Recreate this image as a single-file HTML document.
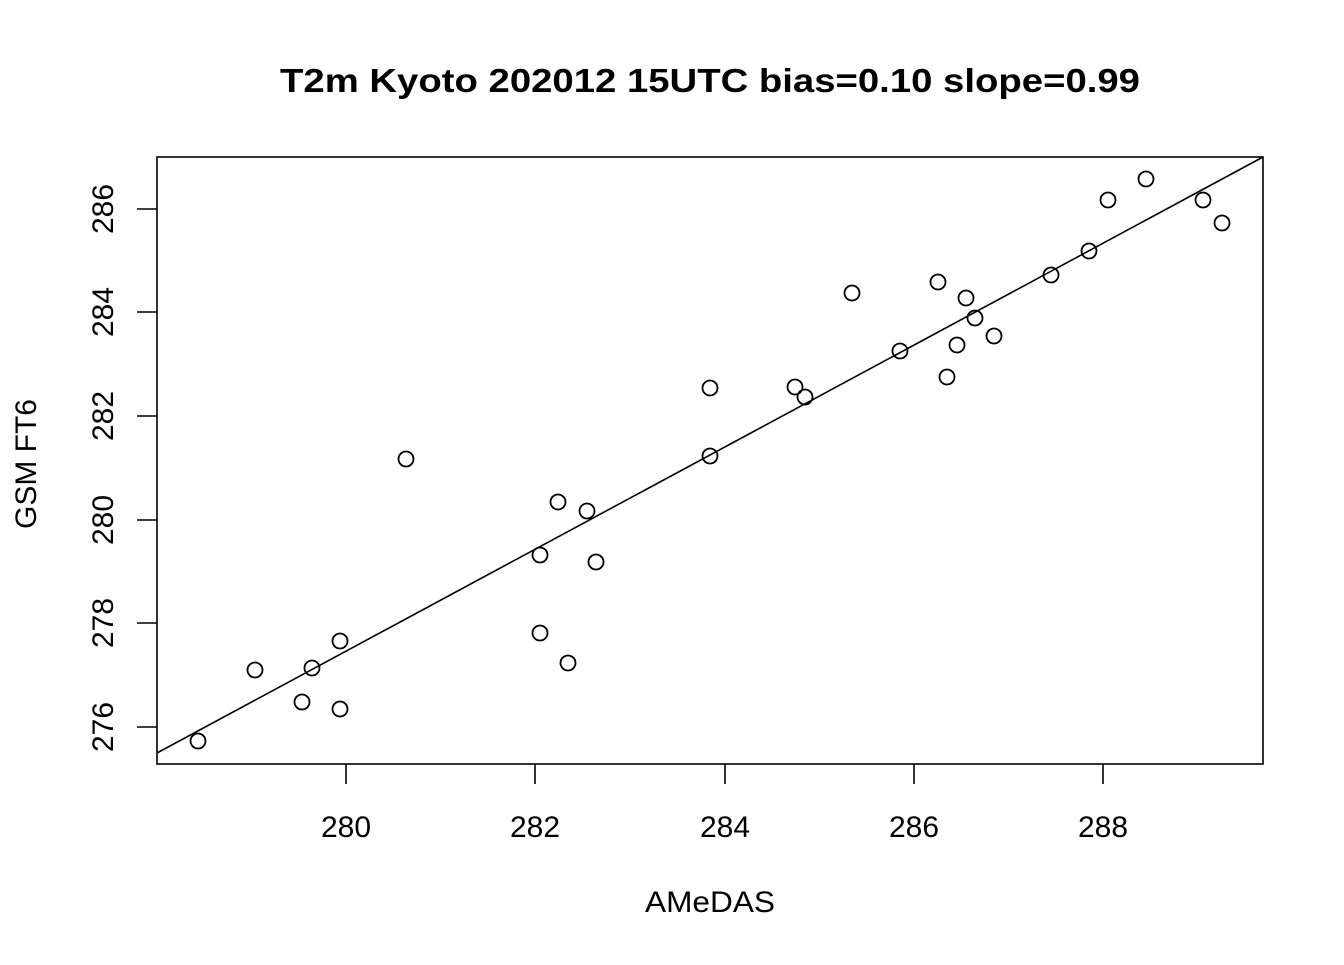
<!DOCTYPE html>
<html><head><meta charset="utf-8"><style>html,body{margin:0;padding:0;background:#fff}</style></head>
<body>
<svg width="1344" height="960" viewBox="0 0 1344 960" xmlns="http://www.w3.org/2000/svg" font-family="Liberation Sans, Arial, sans-serif">
<rect width="1344" height="960" fill="#fff"/>
<text x="710" y="92" text-anchor="middle" font-size="33" font-weight="bold" textLength="860" lengthAdjust="spacingAndGlyphs">T2m Kyoto 202012 15UTC bias=0.10 slope=0.99</text>
<rect x="157" y="157" width="1106" height="607" fill="none" stroke="#000" stroke-width="1.6"/>
<g stroke="#000" stroke-width="1.6">
<line x1="346" y1="764" x2="346" y2="784"/><line x1="535" y1="764" x2="535" y2="784"/><line x1="725" y1="764" x2="725" y2="784"/><line x1="914" y1="764" x2="914" y2="784"/><line x1="1103" y1="764" x2="1103" y2="784"/>
<line x1="137" y1="727" x2="157" y2="727"/><line x1="137" y1="623" x2="157" y2="623"/><line x1="137" y1="520" x2="157" y2="520"/><line x1="137" y1="416" x2="157" y2="416"/><line x1="137" y1="312" x2="157" y2="312"/><line x1="137" y1="209" x2="157" y2="209"/>
</g>
<g font-size="30" text-anchor="middle">
<text x="346" y="837">280</text><text x="535" y="837">282</text><text x="725" y="837">284</text><text x="914" y="837">286</text><text x="1103" y="837">288</text>
<text transform="translate(113,727) rotate(-90)">276</text>
<text transform="translate(113,623) rotate(-90)">278</text>
<text transform="translate(113,520) rotate(-90)">280</text>
<text transform="translate(113,416) rotate(-90)">282</text>
<text transform="translate(113,312) rotate(-90)">284</text>
<text transform="translate(113,209) rotate(-90)">286</text>
<text x="710" y="912" textLength="130" lengthAdjust="spacingAndGlyphs">AMeDAS</text>
<text transform="translate(36,464) rotate(-90)" textLength="130" lengthAdjust="spacingAndGlyphs">GSM FT6</text>
</g>
<line x1="157" y1="753" x2="1263" y2="157" stroke="#000" stroke-width="1.6"/>
<g fill="none" stroke="#000" stroke-width="1.8">
<circle cx="198" cy="741" r="7.5"/><circle cx="255" cy="670" r="7.5"/><circle cx="312" cy="668" r="7.5"/><circle cx="302" cy="702" r="7.5"/><circle cx="340" cy="641" r="7.5"/><circle cx="340" cy="709" r="7.5"/><circle cx="406" cy="459" r="7.5"/><circle cx="540" cy="555" r="7.5"/><circle cx="540" cy="633" r="7.5"/><circle cx="558" cy="502" r="7.5"/><circle cx="587" cy="511" r="7.5"/><circle cx="568" cy="663" r="7.5"/><circle cx="596" cy="562" r="7.5"/><circle cx="710" cy="388" r="7.5"/><circle cx="710" cy="456" r="7.5"/><circle cx="795" cy="387" r="7.5"/><circle cx="805" cy="397" r="7.5"/><circle cx="852" cy="293" r="7.5"/><circle cx="900" cy="351" r="7.5"/><circle cx="938" cy="282" r="7.5"/><circle cx="947" cy="377" r="7.5"/><circle cx="957" cy="345" r="7.5"/><circle cx="966" cy="298" r="7.5"/><circle cx="975" cy="318" r="7.5"/><circle cx="994" cy="336" r="7.5"/><circle cx="1051" cy="275" r="7.5"/><circle cx="1089" cy="251" r="7.5"/><circle cx="1108" cy="200" r="7.5"/><circle cx="1146" cy="179" r="7.5"/><circle cx="1203" cy="200" r="7.5"/><circle cx="1222" cy="223" r="7.5"/>
</g>
</svg>
</body></html>
